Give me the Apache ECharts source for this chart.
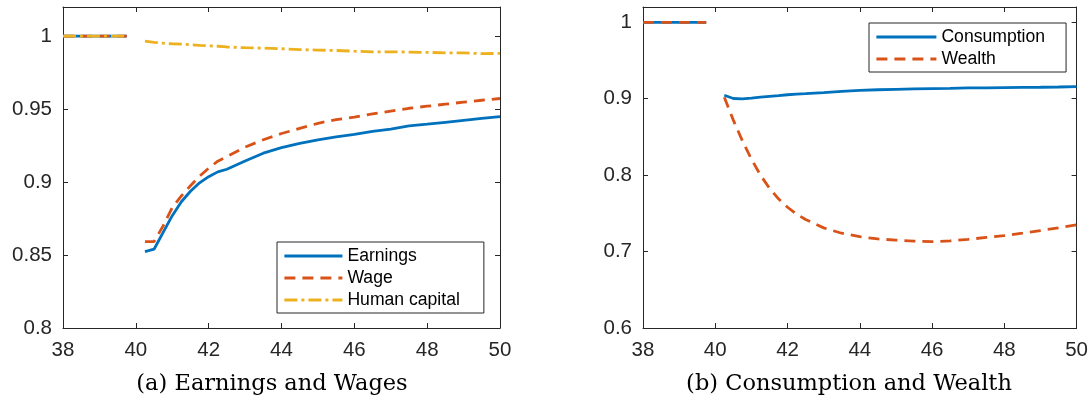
<!DOCTYPE html>
<html>
<head>
<meta charset="utf-8">
<script src="https://cdn.jsdelivr.net/npm/echarts@6/dist/echarts.min.js"></script>
<style>
html,body{margin:0;padding:0;background:#fff;}
#chart{width:1091px;height:412px;}
</style>
</head>
<body>
<div id="chart"></div>
<script>
// ---- data ----
var preAges = [38, 39.75];
var preValues = [1, 1];
var ages = [40.25, 40.5, 40.75, 41, 41.25, 41.5, 41.75, 42, 42.25, 42.5, 43, 43.5, 44, 44.5, 45, 45.5, 46, 46.5, 47, 47.5, 48, 48.5, 49, 49.5, 50];
var earnings = [0.8523, 0.8540, 0.8655, 0.8770, 0.8865, 0.8937, 0.8995, 0.9037, 0.9070, 0.9088, 0.9145, 0.9198, 0.9236, 0.9265, 0.9290, 0.9310, 0.9327, 0.9347, 0.9363, 0.9385, 0.9397, 0.9410, 0.9423, 0.9436, 0.9448];
var wage = [0.8592, 0.8592, 0.8700, 0.8825, 0.8905, 0.8975, 0.9040, 0.9095, 0.9143, 0.9175, 0.9240, 0.9290, 0.9333, 0.9368, 0.9403, 0.9428, 0.9446, 0.9467, 0.9487, 0.9506, 0.9520, 0.9534, 0.9548, 0.9561, 0.9573];
var humanCapital = [0.9966, 0.9958, 0.9952, 0.9948, 0.9946, 0.9941, 0.9937, 0.9934, 0.9931, 0.9926, 0.9921, 0.9918, 0.9914, 0.9908, 0.9905, 0.9902, 0.9897, 0.9893, 0.9893, 0.9891, 0.9889, 0.9886, 0.9886, 0.9880, 0.9882];
var consumption = [0.9045, 0.9003, 0.8999, 0.9008, 0.9020, 0.9030, 0.9040, 0.9052, 0.9060, 0.9066, 0.9080, 0.9096, 0.9110, 0.9117, 0.9123, 0.9128, 0.9132, 0.9136, 0.9141, 0.9143, 0.9146, 0.9148, 0.9150, 0.9153, 0.9158];
var wealth = [0.9020, 0.8720, 0.8450, 0.8210, 0.8000, 0.7830, 0.7690, 0.7580, 0.7490, 0.7420, 0.7310, 0.7240, 0.7195, 0.7165, 0.7150, 0.7138, 0.7130, 0.7140, 0.7160, 0.7185, 0.7210, 0.7240, 0.7275, 0.7310, 0.7350];
var xTicks = ['38', '40', '42', '44', '46', '48', '50'];
var yTicksA = ['0.8', '0.85', '0.9', '0.95', '1'];
var yTicksB = ['0.6', '0.7', '0.8', '0.9', '1'];
var captionA = '(a) Earnings and Wages';
var captionB = '(b) Consumption and Wealth';

// ---- build ----
function series2(values) {
  var d = [];
  for (var i = 0; i < preAges.length; i++) d.push([preAges[i], preValues[i]]);
  d.push([40, '-']);
  for (var j = 0; j < ages.length; j++) d.push([ages[j], values[j]]);
  return d;
}
function fmt(list) {
  return function (v) {
    for (var i = 0; i < list.length; i++) {
      if (Math.abs(parseFloat(list[i]) - v) < 1e-6) return list[i];
    }
    return '';
  };
}
var BLUE = '#0072BD', ORANGE = '#D95319', YELLOW = '#EDB120', AX = '#262626';
var FONT = 'Liberation Sans';

function xAx(grid, pos) {
  return {
    type: 'value', gridIndex: grid, position: pos, min: 38, max: 50, interval: 2,
    axisLine: { show: true, onZero: false, lineStyle: { color: AX, width: 1 } },
    axisTick: { show: true, inside: true, length: 5, lineStyle: { color: AX } },
    axisLabel: { show: pos === 'bottom', formatter: fmt(xTicks), color: AX, fontFamily: FONT, fontSize: 20.5, margin: 12 },
    splitLine: { show: false }
  };
}
function yAx(grid, pos, min, interval, labels) {
  return {
    type: 'value', gridIndex: grid, position: pos, min: min, max: 1.02, interval: interval,
    axisLine: { show: true, onZero: false, lineStyle: { color: AX, width: 1 } },
    axisTick: { show: true, inside: true, length: 5, lineStyle: { color: AX } },
    axisLabel: { show: pos === 'left', formatter: fmt(labels), color: AX, fontFamily: FONT, fontSize: 20.5, margin: 11, showMaxLabel: true },
    splitLine: { show: false }
  };
}
function line(name, x, y, data, color, type, z) {
  return {
    name: name, type: 'line', xAxisIndex: x, yAxisIndex: y, data: data,
    symbol: 'none', showSymbol: false, smooth: false, connectNulls: false, z: z,
    lineStyle: { color: color, width: 2.8, type: type },
    itemStyle: { color: color },
    emphasis: { disabled: true }, animation: false
  };
}
var legendBase = {
  orient: 'vertical', align: 'left', backgroundColor: '#fff',
  borderColor: AX, borderWidth: 1, itemHeight: 18, itemGap: 4,
  textStyle: { fontFamily: FONT, fontSize: 17.6, color: '#000', lineHeight: 18 },
  itemStyle: { opacity: 0 },
  lineStyle: { width: 2.8 },
  selectedMode: false
};

var option = {
  animation: false,
  grid: [
    { left: 63, top: 7, width: 437, height: 321 },
    { left: 643, top: 7, width: 436, height: 321 }
  ],
  xAxis: [xAx(0, 'bottom'), xAx(0, 'top'), xAx(1, 'bottom'), xAx(1, 'top')],
  yAxis: [
    yAx(0, 'left', 0.8, 0.05, yTicksA), yAx(0, 'right', 0.8, 0.05, yTicksA),
    yAx(1, 'left', 0.6, 0.1, yTicksB), yAx(1, 'right', 0.6, 0.1, yTicksB)
  ],
  legend: [
    Object.assign({}, legendBase, { left: 277, top: 242, itemWidth: 58, padding: [5, 24, 4, 6], data: ['Earnings', 'Wage', 'Human capital'] }),
    Object.assign({}, legendBase, { left: 869, top: 23, itemWidth: 60, padding: [5, 21, 4, 6], data: ['Consumption', 'Wealth'] })
  ],
  series: [
    line('Earnings', 0, 0, series2(earnings), BLUE, 'solid', 2),
    line('Wage', 0, 0, series2(wage), ORANGE, [11, 7], 3),
    line('Human capital', 0, 0, series2(humanCapital), YELLOW, [13, 4, 3, 4], 4),
    line('Consumption', 2, 2, series2(consumption), BLUE, 'solid', 2),
    line('Wealth', 2, 2, series2(wealth), ORANGE, [11, 7], 3)
  ],
  graphic: [
    { type: 'text', x: 272, y: 384, style: { text: captionA, align: 'center', verticalAlign: 'middle', font: '22.5px "DejaVu Serif"', fill: '#000' } },
    { type: 'text', x: 849, y: 384, style: { text: captionB, align: 'center', verticalAlign: 'middle', font: '22.5px "DejaVu Serif"', fill: '#000' } }
  ]
};
var chart = echarts.init(document.getElementById('chart'), null, { renderer: 'canvas' });
chart.setOption(option);
</script>
</body>
</html>
